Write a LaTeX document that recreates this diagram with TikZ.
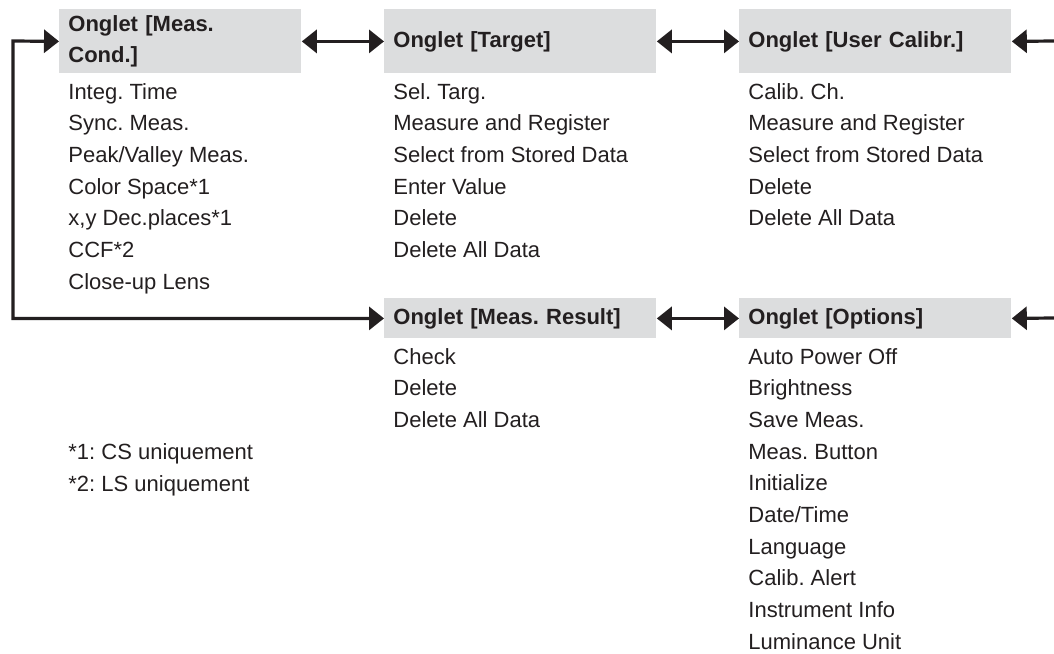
\documentclass[tikz,border=0pt]{standalone}
\usepackage{fontspec}
\setmainfont{Liberation Sans}
\frenchspacing
\usetikzlibrary{arrows.meta}
\definecolor{MenuInk}{HTML}{231F20}
\definecolor{MenuGray}{HTML}{DCDDDE}
\tikzset{
  tabhead/.style={fill=MenuGray,text=MenuInk,font=\fontsize{11}{14.5}\selectfont\bfseries,
    anchor=north west,inner xsep=4.5pt,inner ysep=0pt,align=left,text width=127pt},
  tabitem/.style={text=MenuInk,font=\fontsize{11}{14}\selectfont,anchor=base west,inner xsep=4.5pt,inner ysep=0pt},
  conn/.style={draw=MenuInk,line width=1.6pt},
  >={Triangle[length=7.5pt,width=11.5pt]}
}

\begin{document}
\begin{tikzpicture}[x=0.5pt,y=-0.5pt,line join=miter]
  \useasboundingbox (0,0) rectangle (1054,653);
  % tab headers
  \node[tabhead,text width=112pt,minimum height=32pt] (hCond) at (59,9) {Onglet [Meas.\\[1pt]Cond.]};
  \node[tabhead,minimum height=32pt] (hTarget) at (384,9) {Onglet [Target]};
  \node[tabhead,minimum height=32pt] (hUser) at (739,9) {Onglet [User Calibr.]};
  \node[tabhead,minimum height=20pt] (hResult) at (384,298) {Onglet [Meas. Result]};
  \node[tabhead,minimum height=20pt] (hOptions) at (739,298) {Onglet [Options]};
  % menu entries
  \foreach \txt [count=\i from 0] in {Integ. Time,Sync. Meas.,Peak/Valley Meas.,Color Space*1,{x,y Dec.places*1},CCF*2,Close-up Lens}
    \node[tabitem] (cond\i) at (59,{99+31.7*\i}) {\txt};
  \foreach \txt [count=\i from 0] in {Sel. Targ.,Measure and Register,Select from Stored Data,Enter Value,Delete,Delete All Data}
    \node[tabitem] (targ\i) at (384,{99+31.7*\i}) {\txt};
  \foreach \txt [count=\i from 0] in {Calib. Ch.,Measure and Register,Select from Stored Data,Delete,Delete All Data}
    \node[tabitem] (user\i) at (739,{99+31.7*\i}) {\txt};
  \foreach \txt [count=\i from 0] in {Check,Delete,Delete All Data}
    \node[tabitem] (res\i) at (384,{364+31.7*\i}) {\txt};
  \foreach \txt [count=\i from 0] in {Auto Power Off,Brightness,Save Meas.,Meas. Button,Initialize,Date/Time,Language,Calib. Alert,Instrument Info,Luminance Unit}
    \node[tabitem] (opt\i) at (739,{364+31.7*\i}) {\txt};
  % footnotes
  \node[tabitem] (note1) at (59,459) {*1: CS uniquement};
  \node[tabitem] (note2) at (59,491) {*2: LS uniquement};
  % connectors
  \coordinate (loopTop) at (13,41);
  \coordinate (edgeTop) at (1054,41);
  \coordinate (edgeBot) at (1054,318);
  \draw[conn,<->] (hCond.west) -- (loopTop) |- (hResult.west);
  \draw[conn,<->] (hCond.east) -- (hTarget.west);
  \draw[conn,<->] (hTarget.east) -- (hUser.west);
  \draw[conn,->] (edgeTop) -- (hUser.east);
  \draw[conn,<->] (hResult.east) -- (hOptions.west);
  \draw[conn,->] (edgeBot) -- (hOptions.east);
\end{tikzpicture}
\end{document}
